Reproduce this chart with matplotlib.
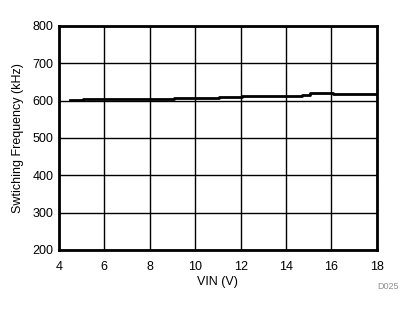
import matplotlib
matplotlib.use("Agg")
import matplotlib.pyplot as plt

plt.rcParams['font.family'] = ['Liberation Sans', 'DejaVu Sans']

# Données
vin = [4.5, 5.05, 9.0, 9.05, 11.0, 11.05, 12.0, 12.05, 14.4, 14.7, 15.05, 16.0, 16.05, 18.0]
freq = [601, 604, 604, 607, 607, 610, 610, 612, 612, 614, 619, 619, 617, 617]

xticks = [4, 6, 8, 10, 12, 14, 16, 18]
yticks = [200, 300, 400, 500, 600, 700, 800]

fig = plt.figure(figsize=(4.15, 3.12), dpi=100)
ax = fig.add_axes([0.142, 0.199, 0.766, 0.718])

ax.plot(vin, freq, color='black', linewidth=2, drawstyle='steps-post')

ax.set_xlim(4, 18)
ax.set_ylim(200, 800)
ax.set_xticks(xticks)
ax.set_yticks(yticks)
ax.grid(True, color='black', linewidth=1)
ax.tick_params(axis='x', length=0, labelsize=9, pad=8)
ax.tick_params(axis='y', length=0, labelsize=9, pad=4)
for s in ax.spines.values():
    s.set_linewidth(2)

ax.set_xlabel("VIN (V)", fontsize=9, labelpad=2)
ax.set_ylabel("Swtiching Frequency (kHz)", fontsize=9, labelpad=6)
fig.text(0.935, 0.075, "D025", fontsize=6.5, color='#909090', ha='center')

fig.savefig("out.png", dpi=100)
